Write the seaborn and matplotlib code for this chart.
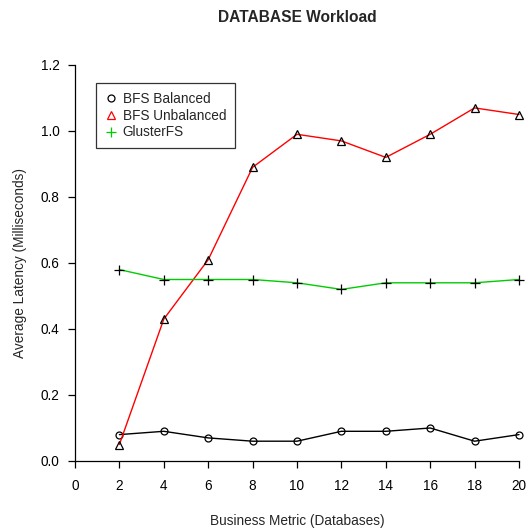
import matplotlib
matplotlib.use("Agg")
import matplotlib.pyplot as plt
from matplotlib.lines import Line2D
import seaborn as sns
import pandas as pd

sns.set_style("ticks")
plt.rcParams['font.family'] = ['Liberation Sans', 'DejaVu Sans']

databases = [2, 4, 6, 8, 10, 12, 14, 16, 18, 20]
bfs_balanced = [0.08, 0.09, 0.07, 0.06, 0.06, 0.09, 0.09, 0.10, 0.06, 0.08]
bfs_unbalanced = [0.05, 0.43, 0.61, 0.89, 0.99, 0.97, 0.92, 0.99, 1.07, 1.05]
glusterfs = [0.58, 0.55, 0.55, 0.55, 0.54, 0.52, 0.54, 0.54, 0.54, 0.55]

series_names = ["BFS Balanced", "BFS Unbalanced", "GlusterFS"]
series_vals = [bfs_balanced, bfs_unbalanced, glusterfs]
line_colors = ["black", "#FF0000", "#00CD00"]
markers = ["o", "^", "+"]
msizes = [5.0, 6.0, 7.5]

x_ticks = [0, 2, 4, 6, 8, 10, 12, 14, 16, 18, 20]
y_ticks = [0.0, 0.2, 0.4, 0.6, 0.8, 1.0, 1.2]

W, H = 527, 532
fig = plt.figure(figsize=(W / 100, H / 100), dpi=100)
ax = fig.add_axes([75 / W, (H - 461) / H, (519 - 75) / W, (461 - 65) / H])

fs = 9.8
for name, vals, col, mk, ms in zip(series_names, series_vals, line_colors, markers, msizes):
    df = pd.DataFrame({"x": databases, "y": vals})
    sns.lineplot(data=df, x="x", y="y", ax=ax, color=col, linewidth=1.0,
                 marker=mk, markersize=ms, markerfacecolor="none",
                 markeredgecolor="black", markeredgewidth=0.9, clip_on=False)

ax.set_xlim(0, 20)
ax.set_ylim(0, 1.2)
ax.set_xticks(x_ticks)
ax.set_xticklabels([str(t) for t in x_ticks])
ax.set_yticks(y_ticks)
ax.set_yticklabels([f"{t:.1f}" for t in y_ticks])
for s in ["top", "right"]:
    ax.spines[s].set_visible(False)
for s in ["left", "bottom"]:
    ax.spines[s].set_linewidth(0.9)
    ax.spines[s].set_color("black")
ax.tick_params(axis="both", direction="out", length=5.2, width=0.9, colors="black",
               labelsize=fs)
ax.tick_params(axis="x", pad=8)
ax.tick_params(axis="y", pad=6)
ax.set_xlabel("Business Metric (Databases)", fontsize=fs, labelpad=15)
ax.set_ylabel("Average Latency (Milliseconds)", fontsize=fs, labelpad=10)
fig.text(297 / W, 1 - 17 / H, "DATABASE Workload", ha="center", va="center",
         fontsize=11.2, fontweight="bold")

handles = [Line2D([], [], linestyle="none", marker=mk, markersize=ms,
                  markerfacecolor="none", markeredgecolor=col, markeredgewidth=0.9)
           for col, mk, ms in zip(line_colors, markers, msizes)]
leg = ax.legend(handles, series_names, loc="upper left",
                bbox_to_anchor=(21 / 444, (461 - 83) / 396), fontsize=fs,
                frameon=True, fancybox=False, borderpad=0.65, handlelength=0.9,
                handletextpad=0.4, labelspacing=0.2, borderaxespad=0)
leg.get_frame().set_edgecolor("black")
leg.get_frame().set_linewidth(0.9)

fig.savefig("out.png", dpi=100)
